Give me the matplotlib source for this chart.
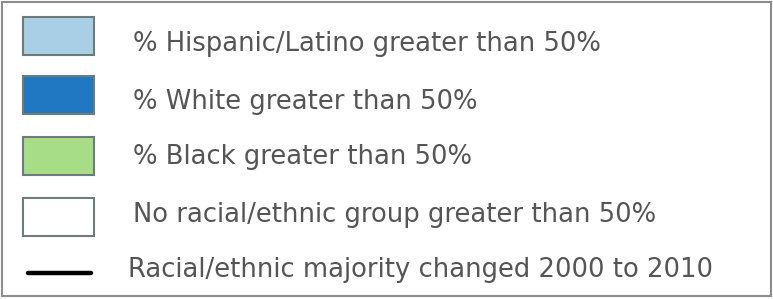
import matplotlib
matplotlib.use("Agg")
import matplotlib.pyplot as plt
from matplotlib.patches import Rectangle
from matplotlib.lines import Line2D

# Legend content
labels = [
    "% Hispanic/Latino greater than 50%",
    "% White greater than 50%",
    "% Black greater than 50%",
    "No racial/ethnic group greater than 50%",
    "Racial/ethnic majority changed 2000 to 2010",
]
swatch_colors = ["#a8cfe6", "#1f78c1", "#a8dd88", "#ffffff"]
line_color = "#000000"

W, H = 773, 299
fig = plt.figure(figsize=(W / 100, H / 100), dpi=100)
ax = fig.add_axes([0, 0, 1, 1])
ax.set_xlim(0, W)
ax.set_ylim(H, 0)
ax.axis("off")

# outer frame
ax.add_patch(Rectangle((2, 2), W - 4, H - 5, facecolor="white",
                       edgecolor="#8c8c8c", linewidth=1.5))

row_tops = [17, 76, 137, 198]
sw_h = 38
text_y = [44, 102, 157, 215, 270]
text_x = [133, 133, 133, 133, 128]

for top, c in zip(row_tops, swatch_colors):
    ax.add_patch(Rectangle((23, top), 71, sw_h, facecolor=c,
                           edgecolor="#6e7b7b", linewidth=1.5))

ax.add_line(Line2D([28, 91], [273, 273], color=line_color, linewidth=3.2,
                   solid_capstyle="round"))

for x, y, t in zip(text_x, text_y, labels):
    ax.text(x, y, t, fontsize=18.6, color="#555555", va="center", ha="left",
            family="DejaVu Sans")

fig.savefig("out.png", dpi=100)
